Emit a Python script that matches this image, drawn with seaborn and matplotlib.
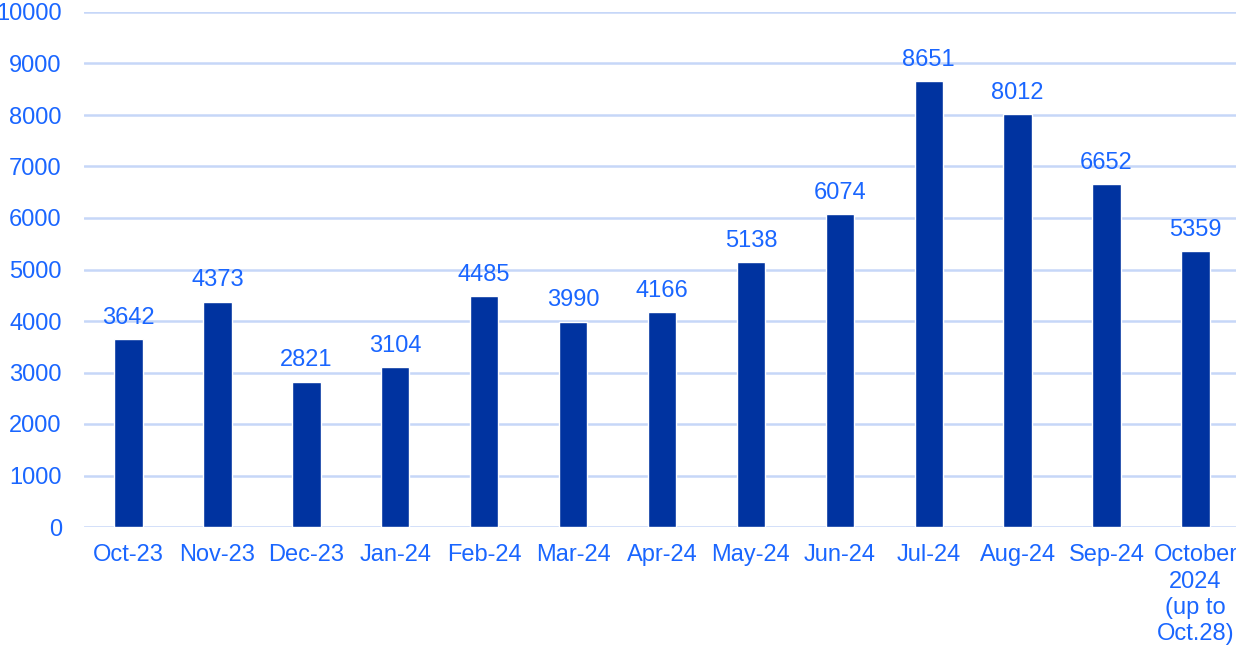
import matplotlib
matplotlib.use("Agg")
import matplotlib.pyplot as plt
import seaborn as sns
import pandas as pd

categories = ["Oct-23", "Nov-23", "Dec-23", "Jan-24", "Feb-24", "Mar-24", "Apr-24",
              "May-24", "Jun-24", "Jul-24", "Aug-24", "Sep-24",
              "October\n2024\n(up to\nOct.28)"]
values = [3642, 4373, 2821, 3104, 4485, 3990, 4166, 5138, 6074, 8651, 8012, 6652, 5359]
y_ticks = [0, 1000, 2000, 3000, 4000, 5000, 6000, 7000, 8000, 9000, 10000]

sns.set_theme(style="white")
plt.rcParams['font.family'] = ['Liberation Sans', 'DejaVu Sans']

TEXT = "#1a66ff"
BAR = "#0033a0"
GRID = "#c6d7f8"

df = pd.DataFrame({"month": categories, "count": values})

fig = plt.figure(figsize=(12.36, 6.5), dpi=100)
ax = fig.add_axes([84 / 1236, 123 / 650, 1156 / 1236, 515 / 650])

sns.barplot(data=df, x="month", y="count", color=BAR, width=0.32, ax=ax,
            saturation=1, zorder=3)

ax.set_xlim(-0.5, len(categories) - 0.5)
ax.set_ylim(0, 10000)
ax.set_yticks(y_ticks)
ax.set_yticklabels([str(t) for t in y_ticks])
ax.yaxis.grid(True, color=GRID, linewidth=1.8, zorder=0)
ax.set_axisbelow(True)
for s in ax.spines.values():
    s.set_visible(False)

ax.set_xlabel("")
ax.set_ylabel("")
ax.tick_params(axis="x", length=0, pad=12.5, labelsize=17, labelcolor=TEXT)
ax.tick_params(axis="y", length=0, pad=16, labelsize=17, labelcolor=TEXT)
for lbl in ax.get_xticklabels():
    lbl.set_linespacing(1.25)

for i, v in enumerate(values):
    ax.annotate(str(v), (i, v), xytext=(0, 7.5), textcoords="offset points",
                ha="center", va="bottom", fontsize=17, color=TEXT)

fig.savefig("out.png", dpi=100)
